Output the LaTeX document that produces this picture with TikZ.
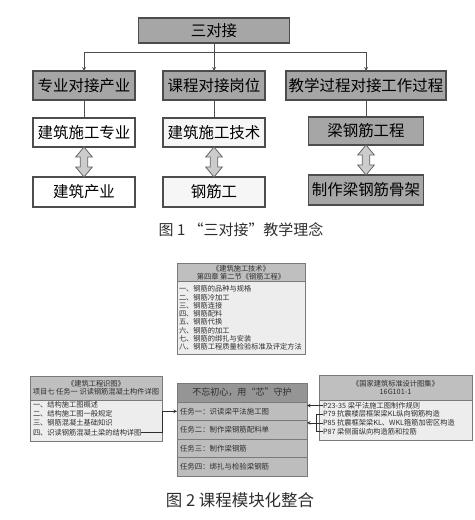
\documentclass[tikz,border=0pt]{standalone}
\usepackage{fontspec}
\setmainfont{Noto Sans CJK SC}
\usetikzlibrary{arrows,positioning}
\definecolor{edgedark}{HTML}{4D4D4D}
\definecolor{boxgray}{HTML}{A6A6A6}
\definecolor{boxlight}{HTML}{F6F6F6}
\definecolor{hdrgray}{HTML}{BFBFBF}
\definecolor{bodygray}{HTML}{EDEDED}
\definecolor{midhdr}{HTML}{959595}
\definecolor{midrow}{HTML}{BDBDBD}
\definecolor{edgemid}{HTML}{7A7A7A}
\definecolor{txtdark}{HTML}{2E2E2E}
\newcommand\pxu{0.035cm}

\begin{document}
\begin{tikzpicture}[
    x=0.035cm, y=-0.035cm,
    every node/.style={inner sep=0pt, outer sep=0pt},
    % figure 1
    topbox/.style={rectangle, draw=edgedark, line width=1.1pt, fill=boxgray,
                   minimum width=151*\pxu, minimum height=25*\pxu,
                   font=\fontsize{15.4pt}{18pt}\selectfont},
    hdbox/.style={rectangle, draw=edgedark, line width=1.1pt, fill=boxgray,
                  minimum width=102*\pxu, minimum height=29*\pxu,
                  font=\fontsize{15.4pt}{18pt}\selectfont},
    wbox/.style={hdbox, fill=white},
    lbox/.style={hdbox, fill=boxlight},
    gbox/.style={hdbox, minimum width=115*\pxu, minimum height=29*\pxu},
    arr/.style={->, >=stealth, line width=0.8pt, draw=edgedark},
    ln/.style={line width=0.8pt, draw=edgedark},
    dblarr/.style={draw=black!60, line width=0.8pt, fill=black!20},
    dblarrow/.pic={\draw[dblarr] (0,0) -- (8.3,10) -- (3.8,10) -- (3.8,20)
                   -- (8.3,20) -- (0,30) -- (-8.3,20) -- (-3.8,20)
                   -- (-3.8,10) -- (-8.3,10) -- cycle;},
    captxt/.style={font=\fontsize{14.9pt}{18pt}\selectfont, text=txtdark},
    % figure 2
    hdr2/.style={rectangle, draw=edgemid, line width=0.6pt, fill=hdrgray,
                 align=center, text=txtdark,
                 font=\fontsize{7.2pt}{8.3pt}\selectfont},
    body2/.style={rectangle, draw=edgemid, line width=0.6pt, fill=bodygray,
                  text=txtdark, font=\fontsize{7.2pt}{8.25pt}\selectfont},
    txt/.style={anchor=west, text=txtdark, font=\fontsize{7.2pt}{8.3pt}\selectfont},
    mhdr/.style={rectangle, draw=edgemid, line width=0.6pt, fill=midhdr,
                 minimum width=130*\pxu, minimum height=19*\pxu,
                 text=txtdark, font=\fontsize{9pt}{10pt}\selectfont},
    mrow/.style={rectangle, draw=edgemid, line width=0.6pt, fill=midrow,
                 minimum width=130*\pxu, minimum height=18.5*\pxu,
                 text width=4.34cm, align=left, inner xsep=0.105cm,
                 text=txtdark, font=\fontsize{7.4pt}{8.5pt}\selectfont},
    arr2/.style={->, >=stealth, line width=0.6pt, draw=txtdark},
    ln2/.style={line width=0.6pt, draw=txtdark},
]
\useasboundingbox (0,0) rectangle (474,520);

% figure 1
\node[topbox] (sdj) at (214,30.5) {三对接};

\node[hdbox] (zy) at (84,85.5)  {专业对接产业};
\node[hdbox] (kc) at (214,85.5) {课程对接岗位};
\node[hdbox, minimum width=160*\pxu] (jx) at (366,85.5) {教学过程对接工作过程};

\node[wbox] (jzzy) at (84,132.5)  {建筑施工专业};
\node[lbox] (jzjs) at (214,132.5) {建筑施工技术};
\node[gbox, minimum height=28*\pxu] (lgj) at (366,131) {梁钢筋工程};

\node[wbox, minimum height=30*\pxu] (jzcy) at (84,192)  {建筑产业};
\node[lbox, minimum height=30*\pxu] (gjg)  at (214,192) {钢筋工};
\node[gbox, minimum height=30*\pxu] (zzgj) at (366,190) {制作梁钢筋骨架};

\draw[arr] (sdj) -- (kc);
\draw[arr] (sdj.south) ++(0,9.5) -| (zy.north);
\draw[arr] (sdj.south) ++(0,9.5) -| (jx.north);
\draw[ln] (zy) -- (jzzy);
\draw[ln] (kc) -- (jzjs);
\draw[ln] (jx) -- (lgj);
\pic at (jzzy.south) {dblarrow};
\pic at (jzjs.south) {dblarrow};
\pic at (lgj.south)  {dblarrow};

\node[captxt] (cap1) at (241,230) {图 1 “三对接”教学理念};

% figure 2
\node[hdr2, minimum width=128*\pxu, minimum height=18.5*\pxu] (jsh) at (241,272.5)
    {《建筑施工技术》\\第四章 第二节《钢筋工程》};
\node[body2, minimum width=128*\pxu, minimum height=72.5*\pxu, text width=4.34cm,
      align=left, inner xsep=0.07cm, below=0pt of jsh] (jsb)
    {一、钢筋的品种与规格\\二、钢筋冷加工\\三、钢筋连接\\四、钢筋配料\\
     五、钢筋代换\\六、钢筋的加工\\七、钢筋的绑扎与安装\\八、钢筋工程质量检验标准及评定方法};

\node[hdr2, minimum width=132*\pxu, minimum height=24*\pxu] (zth) at (96,388)
    {《建筑工程识图》\\项目七 任务一 识读钢筋混凝土构件详图};
\node[body2, minimum width=132*\pxu, minimum height=41*\pxu, below=0pt of zth] (ztb) {};
\node[txt] (zt1) at (33,405)   {一、结构施工图概述};
\node[txt] (zt2) at (33,413.8) {二、结构施工图一般规定};
\node[txt] (zt3) at (33,423)   {三、钢筋混凝土基础知识};
\node[txt] (zt4) at (33,432.5) {四、识读钢筋混凝土梁的结构详图};

\node[mhdr] (bwh) at (242,392.5) {不忘初心，用“芯”守护};
\node[mrow, below=0pt of bwh] (rw1) {任务一：识读梁平法施工图};
\node[mrow, below=0pt of rw1] (rw2) {任务二：制作梁钢筋配料单};
\node[mrow, below=0pt of rw2] (rw3) {任务三：制作梁钢筋};
\node[mrow, below=0pt of rw3] (rw4) {任务四：绑扎与检验梁钢筋};

\node[hdr2, minimum width=153*\pxu, minimum height=25*\pxu] (tjh) at (395.5,387.5)
    {《国家建筑标准设计图集》\\16G101-1};
\node[body2, minimum width=153*\pxu, minimum height=40*\pxu, below=0pt of tjh] (tjb) {};
\node[txt] (tj1) at (323,405.5) {P23-35 梁平法施工图制作规则};
\node[txt] (tj2) at (323,414)   {P79 抗震楼层框架梁KL纵向钢筋构造};
\node[txt] (tj3) at (323,422.8) {P85 抗震框架梁KL、WKL箍筋加密区构造};
\node[txt] (tj4) at (323,431.3) {P87 梁侧面纵向构造筋和拉筋};

\draw[arr2] (zt4.east) -| (ztb.east |- rw1.west) -- (rw1.west);
\draw[arr2] (tj1.west) -- (tj1.west -| rw1.east);
\draw[ln2] (tj2.west) -- ++(-7,0) coordinate (bk) |- (tj4.west);
\draw[ln2] (bk |- tj3.west) -- (tj3.west);
\draw[arr2] (bk |- tj3.west) -- (tj3.west -| rw2.east);

\node[captxt, font=\fontsize{16.4pt}{19pt}\selectfont] (cap2) at (240,500) {图 2 课程模块化整合};

\end{tikzpicture}
\end{document}
